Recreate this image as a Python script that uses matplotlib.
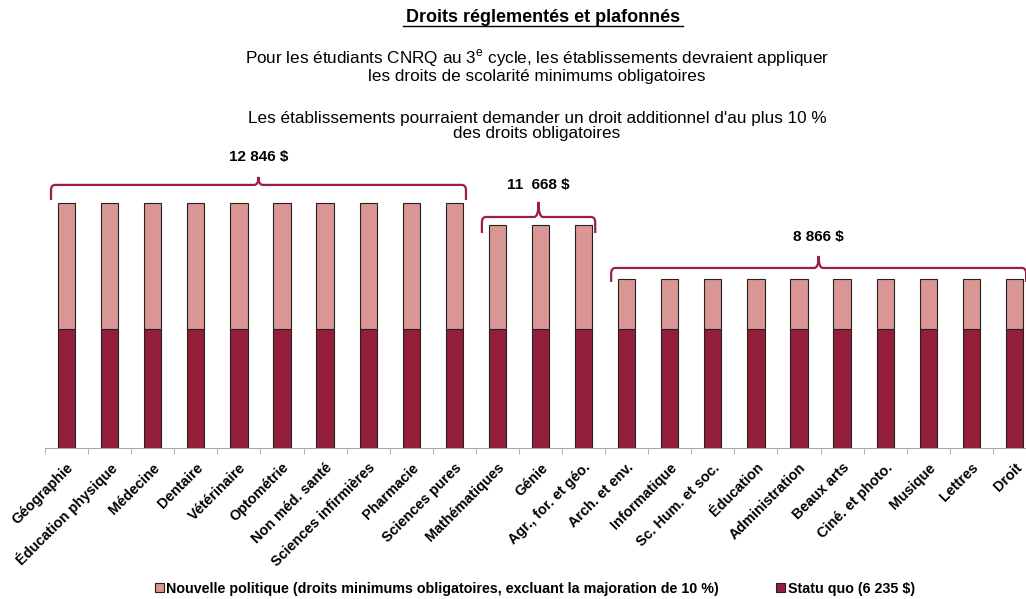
import matplotlib
matplotlib.use("Agg")
import matplotlib.pyplot as plt
from matplotlib.path import Path
from matplotlib.patches import PathPatch
import numpy as np

plt.rcParams['font.family'] = ['Liberation Sans', 'DejaVu Sans']

categories = ["Géographie", "Éducation physique", "Médecine", "Dentaire", "Vétérinaire",
              "Optométrie", "Non méd. santé", "Sciences infirmières", "Pharmacie",
              "Sciences pures", "Mathématiques", "Génie", "Agr., for. et géo.",
              "Arch. et env.", "Informatique", "Sc. Hum. et soc.", "Éducation",
              "Administration", "Beaux arts", "Ciné. et photo.", "Musique", "Lettres", "Droit"]
statu_quo = [6235] * 23
totals = [12846] * 10 + [11668] * 3 + [8866] * 10
nouvelle = [t - s for t, s in zip(totals, statu_quo)]

group_labels = ["12 846 $", "11  668 $", "8 866 $"]
group_ranges = [(0, 9), (10, 12), (13, 22)]

DARK = "#931E3B"
PINK = "#D99694"
BRACE = "#9B1F42"

fig = plt.figure(figsize=(10.26, 5.99), dpi=100)
ax = fig.add_axes([45 / 1026, 151 / 599, 991 / 1026, 267.3 / 599])

x = np.arange(len(categories))
ax.bar(x, statu_quo, width=0.4, color=DARK, edgecolor="#222222", linewidth=0.8,
       label="Statu quo (6 235 $)")
ax.bar(x, nouvelle, width=0.4, bottom=statu_quo, color=PINK, edgecolor="#222222", linewidth=0.8,
       label="Nouvelle politique (droits minimums obligatoires, excluant la majoration de 10 %)")

ax.set_xlim(-0.5, len(categories) - 0.5)
ax.set_ylim(0, 14000)
for s in ["left", "right", "top"]:
    ax.spines[s].set_visible(False)
ax.spines["bottom"].set_color("#A6A6A6")
ax.set_yticks([])
ax.set_xticks(x)
ax.set_xticklabels(categories, rotation=45, ha="right", rotation_mode="anchor",
                   fontsize=10.4, fontweight="bold")
ax.tick_params(axis="x", which="major", length=0, pad=9)
ax.set_xticks(np.arange(-0.5, len(categories), 1.0), minor=True)
ax.tick_params(axis="x", which="minor", length=4, color="#A6A6A6")

# accolades au-dessus des groupes (hauteur de la ligne, bas des bouts, pointe, étiquette)
brace_y = [(13780, 12990, 14200, 15250), (12100, 11260, 12890, 13780),
           (9430, 8700, 10060, 11050)]
rx, ry = 0.1, 280
for (i0, i1), lab, (yh, ye, yp, yl) in zip(group_ranges, group_labels, brace_y):
    x0, x1 = i0 - 0.36, i1 + 0.27
    xc = (x0 + x1) / 2
    verts = [(x0, ye), (x0, yh - ry), (x0, yh), (x0 + rx, yh),
             (xc - rx, yh), (xc, yh), (xc, yp),
             (xc, yh), (xc + rx, yh),
             (x1 - rx, yh), (x1, yh), (x1, yh - ry), (x1, ye)]
    codes = [Path.MOVETO, Path.LINETO, Path.CURVE3, Path.CURVE3,
             Path.LINETO, Path.CURVE3, Path.CURVE3,
             Path.CURVE3, Path.CURVE3,
             Path.LINETO, Path.CURVE3, Path.CURVE3, Path.LINETO]
    ax.add_patch(PathPatch(Path(verts, codes), facecolor="none", edgecolor=BRACE,
                           linewidth=1.6, clip_on=False))
    ax.text(xc, yl, lab, ha="center", va="center", fontsize=11, fontweight="bold",
            clip_on=False)

fig.text(543 / 1026, 1 - 17 / 599, "Droits réglementés et plafonnés", ha="center", va="center",
         fontsize=13, fontweight="bold")
fig.lines.append(plt.Line2D([403 / 1026, 683 / 1026], [1 - 26 / 599, 1 - 26 / 599],
                            color="black", linewidth=1.0, transform=fig.transFigure))
fig.text(537 / 1026, 1 - 66 / 599,
         "Pour les étudiants CNRQ au 3$^{\\mathregular{e}}$ cycle, les établissements devraient appliquer\n"
         "les droits de scolarité minimums obligatoires",
         ha="center", va="center", fontsize=12.3, linespacing=1.0)
fig.text(537 / 1026, 1 - 126 / 599,
         "Les établissements pourraient demander un droit additionnel d'au plus 10 %\n"
         "des droits obligatoires",
         ha="center", va="center", fontsize=12.3, linespacing=1.0)

handles, labels = ax.get_legend_handles_labels()
fig.legend(handles[::-1], labels[::-1], loc="center", bbox_to_anchor=(535 / 1026, 1 - 589 / 599),
           ncol=2, frameon=False, handlelength=0.6, handleheight=0.6,
           handletextpad=0.2, columnspacing=4.0, prop={"weight": "bold", "size": 10.3})

fig.savefig("out.png", dpi=100)
